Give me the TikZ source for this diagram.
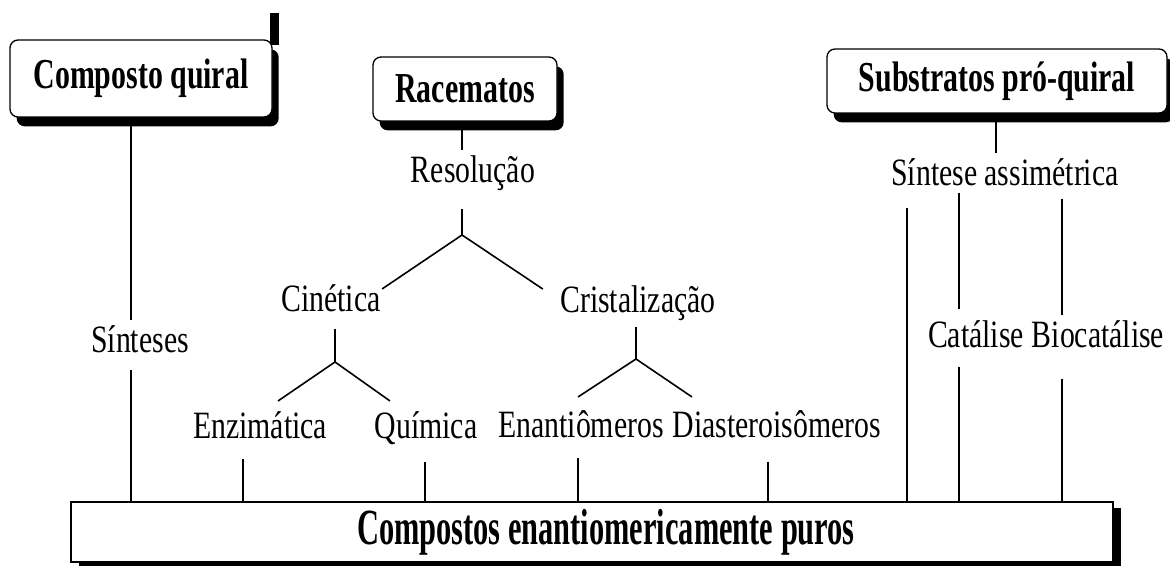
\documentclass[tikz,border=0pt]{standalone}
\usepackage{fontspec}
\setmainfont{Liberation Serif}
\newfontfamily\termfont[FakeStretch=0.77]{Liberation Serif}
\newfontfamily\headfont[FakeStretch=0.7]{Liberation Serif}
\newfontfamily\basefont[FakeStretch=0.6]{Liberation Serif}
\usetikzlibrary{shadows}

\tikzset{
  term/.style={font=\termfont\fontsize{29}{34}\selectfont, inner xsep=2pt, inner ysep=4pt, anchor=base},
  headbox/.style={draw, fill=white, rounded corners=6pt, line width=1pt,
    font=\headfont\bfseries\fontsize{32}{38}\selectfont,
    drop shadow={shadow xshift=5pt, shadow yshift=-7pt, fill=black, opacity=1}},
  basebox/.style={draw, fill=white, line width=1pt, minimum width=781.5pt, minimum height=45pt,
    font=\basefont\bfseries\fontsize{38}{44}\selectfont,
    drop shadow={shadow xshift=6pt, shadow yshift=-4.5pt, fill=black, opacity=1}},
}

\begin{document}
\begin{tikzpicture}[x=0.75pt, y=-0.75pt, line width=1.2pt]
\useasboundingbox (0,0) rectangle (1170,566);

% caixas
\fill (270,13) rectangle (279,45);
\node (quiral)[headbox, minimum width=196.5pt, minimum height=57.75pt] at (141,78.5) {Composto quiral};
\node (racem)[headbox, minimum width=138pt, minimum height=48pt] at (465,89) {Racematos};
\node (proq)[headbox, minimum width=255pt, minimum height=48pt] at (997,81) {Substratos pró-quiral};
\node (puros)[basebox] at (592,532) {\hspace*{21pt}Compostos enantiomericamente puros};

% termos
\node (sint)[term] at (140,353) {Sínteses};
\node (resol)[term] at (473,183) {Resolução};
\node (cinet)[term] at (331,312) {Cinética};
\node (crist)[term] at (638,313) {Cristalização};
\node (enzim)[term] at (260,438) {Enzimática};
\node (quim)[term] at (426,438) {Química};
\node (enant)[term] at (581,437) {Enantiômeros};
\node (diast)[term] at (777,437) {Diasteroisômeros};
\node (assim)[term] at (1005,186) {Síntese assimétrica};
\node (catal)[term] at (976,348) {Catálise};
\node (biocat)[term] at (1098,348) {Biocatálise};

% pontos de ramificacao
\coordinate (jres) at (462,235);
\coordinate (jcin) at (335,362);
\coordinate (jcri) at (636,359);
\coordinate (lsint) at (131,0);
\coordinate (lenz) at (243,0);
\coordinate (lquim) at (425,0);
\coordinate (lenan) at (578,0);
\coordinate (ldia) at (768,0);
\coordinate (lass) at (907,208);
\coordinate (lsub) at (996,0);
\coordinate (lcat) at (959,0);
\coordinate (lbio) at (1062,0);

% composto quiral
\draw (quiral.south -| lsint) -- (sint.north -| lsint);
\draw ([shift={(0,10)}]sint.south -| lsint) -- (puros.north -| lsint);

% racematos
\draw (racem.south -| jres) -- (resol.north -| jres);
\draw ([shift={(0,12)}]resol.south -| jres) -- (jres);
\draw (jres) -- ([shift={(-2,10)}]cinet.north east);
\draw (jres) -- ([shift={(-14,9)}]crist.north west);
\draw ([shift={(0,10)}]cinet.south -| jcin) -- (jcin);
\draw (jcin) -- ([shift={(18,-4)}]enzim.north);
\draw (jcin) -- ([shift={(-36,-4)}]quim.north);
\draw (crist.south -| jcri) -- (jcri);
\draw (jcri) -- ([shift={(-3,-7)}]enant.north);
\draw (jcri) -- ([shift={(-85,-7)}]diast.north);
\draw ([shift={(0,14)}]enzim.south -| lenz) -- (puros.north -| lenz);
\draw ([shift={(0,12)}]quim.south -| lquim) -- (puros.north -| lquim);
\draw ([shift={(0,14)}]enant.south -| lenan) -- (puros.north -| lenan);
\draw ([shift={(0,18)}]diast.south -| ldia) -- (puros.north -| ldia);

% substratos pro-quiral
\draw (proq.south -| lsub) -- (assim.north -| lsub);
\draw (lass) -- (puros.north -| lass);
\draw (assim.south -| lcat) -- ([shift={(0,-6)}]catal.north -| lcat);
\draw ([shift={(0,12)}]catal.south -| lcat) -- (puros.north -| lcat);
\draw ([shift={(0,6)}]assim.south -| lbio) -- (biocat.north -| lbio);
\draw ([shift={(0,24)}]biocat.south -| lbio) -- (puros.north -| lbio);
\end{tikzpicture}
\end{document}
